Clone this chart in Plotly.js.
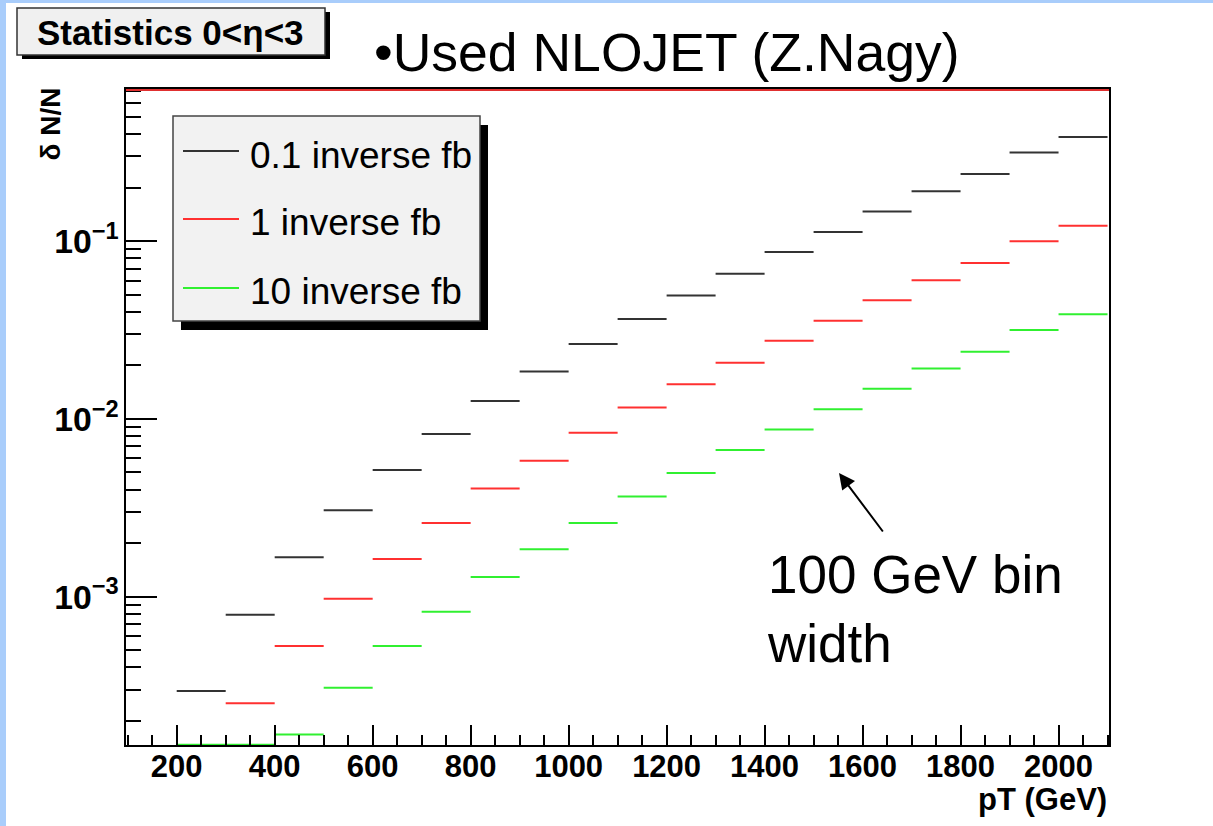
<!DOCTYPE html>
<html>
<head>
<meta charset="utf-8">
<script src="https://cdn.plot.ly/plotly-3.0.1.min.js"></script>
<style>
  html, body { margin: 0; padding: 0; background: #ffffff; }
  #chart { width: 1213px; height: 826px; position: absolute; left: 0; top: 0; }
  .stripeTop { position: absolute; left: 0; top: 0; width: 1213px; height: 3px; background: #a9cdfb; z-index: 5; }
  .stripeLeft { position: absolute; left: 0; top: 0; width: 6px; height: 826px; background: #a9cdfb; z-index: 5; }
</style>
</head>
<body>
<div id="chart"></div>
<div class="stripeTop"></div>
<div class="stripeLeft"></div>
<script>
// ---- data ----
const binLow = [200, 300, 400, 500, 600, 700, 800, 900, 1000, 1100, 1200, 1300, 1400, 1500, 1600, 1700, 1800, 1900, 2000];
const binWidth = 100;
const seriesNames = ["0.1 inverse fb", "1 inverse fb", "10 inverse fb"];
const lumi01 = [2.95e-4, 7.91e-4, 1.67e-3, 3.07e-3, 5.16e-3, 8.24e-3, 1.26e-2, 1.85e-2, 2.64e-2, 3.65e-2, 4.95e-2, 6.55e-2, 8.68e-2, 0.1126, 0.147, 0.191, 0.239, 0.315, 0.386];
const lumi1  = [null, 2.52e-4, 5.28e-4, 9.73e-4, 1.63e-3, 2.60e-3, 4.06e-3, 5.82e-3, 8.37e-3, 1.16e-2, 1.57e-2, 2.07e-2, 2.75e-2, 3.57e-2, 4.65e-2, 6.03e-2, 7.54e-2, 0.0999, 0.122];
const lumi10 = [1.47e-4, 1.47e-4, 1.68e-4, 3.08e-4, 5.28e-4, 8.24e-4, 1.29e-3, 1.85e-3, 2.60e-3, 3.66e-3, 4.97e-3, 6.70e-3, 8.71e-3, 1.135e-2, 1.48e-2, 1.92e-2, 2.39e-2, 3.17e-2, 3.88e-2];
const seriesValues = [lumi01, lumi1, lumi10];
const seriesColors = ["#333333", "#ff3030", "#30f030"];

// ---- layout geometry ----
const W = 1213, H = 826;
const L = 126, T = 89, PW = 983, PH = 656;
const px = x => (x - L) / PW;
const py = y => (T + PH - y) / PH;
const FAM = 'Liberation Sans, Arial, sans-serif';

function stepTrace(vals, color, name) {
  const xs = [], ys = [];
  for (let i = 0; i < binLow.length; i++) {
    if (vals[i] === null) continue;
    xs.push(binLow[i], binLow[i] + binWidth, null);
    ys.push(vals[i], vals[i], null);
  }
  return {
    type: 'scatter', mode: 'lines', x: xs, y: ys, name: name,
    line: { color: color, width: 2 }, showlegend: false, hoverinfo: 'skip'
  };
}

const traces = seriesValues.map((v, i) => stepTrace(v, seriesColors[i], seriesNames[i]));

const shapes = [
  // top red line along the frame
  { type: 'line', xref: 'paper', yref: 'paper', x0: 0, x1: 1, y0: py(90), y1: py(90), line: { color: '#e03030', width: 2 }, layer: 'above' },
  // statistics box shadow + box
  { type: 'rect', xref: 'paper', yref: 'paper', x0: px(22), x1: px(330), y0: py(12), y1: py(59), fillcolor: '#000', line: { width: 0 }, layer: 'above' },
  { type: 'rect', xref: 'paper', yref: 'paper', x0: px(17), x1: px(325), y0: py(8), y1: py(55), fillcolor: '#f0f0f0', line: { color: '#333', width: 1.5 }, layer: 'above' },
  // legend shadow + box
  { type: 'rect', xref: 'paper', yref: 'paper', x0: px(181), x1: px(488), y0: py(125), y1: py(330), fillcolor: '#000', line: { width: 0 }, layer: 'above' },
  { type: 'rect', xref: 'paper', yref: 'paper', x0: px(173), x1: px(480), y0: py(116), y1: py(321), fillcolor: '#f2f2f2', line: { color: '#444', width: 1.5 }, layer: 'above' }
];
const legendY = [151, 219, 288];
const legendTextY = [155, 223, 291];
seriesNames.forEach((n, i) => {
  shapes.push({ type: 'line', xref: 'paper', yref: 'paper', x0: px(183), x1: px(239), y0: py(legendY[i]), y1: py(legendY[i]), line: { color: seriesColors[i], width: 2 }, layer: 'above' });
});

const annotations = [
  { xref: 'paper', yref: 'paper', x: px(170), y: py(33), xanchor: 'center', yanchor: 'middle', showarrow: false,
    text: 'Statistics 0&lt;η&lt;3', font: { family: FAM, size: 35, color: '#000', weight: 'bold' } },
  { xref: 'paper', yref: 'paper', x: px(372), y: py(52), xanchor: 'left', yanchor: 'middle', showarrow: false,
    text: '•Used NLOJET (Z.Nagy)', font: { family: FAM, size: 53.5, color: '#000' } },
  { xref: 'paper', yref: 'paper', x: px(765), y: py(609), xanchor: 'left', yanchor: 'middle', align: 'left', showarrow: false,
    text: '100 GeV bin<br>width', font: { family: FAM, size: 53, color: '#000' } },
  { xref: 'paper', yref: 'paper', x: px(839), y: py(473), ax: 45, ay: 60, axref: 'pixel', ayref: 'pixel', text: '', showarrow: true,
    arrowhead: 2, arrowsize: 1.6, arrowwidth: 2, arrowcolor: '#000' },
  { xref: 'paper', yref: 'paper', x: px(50), y: py(86), xanchor: 'center', yanchor: 'top', textangle: -90, showarrow: false,
    text: 'δ N/N', font: { family: FAM, size: 28, color: '#000', weight: 'bold' } },
  { xref: 'paper', yref: 'paper', x: px(1109), y: py(799), xanchor: 'right', yanchor: 'middle', showarrow: false,
    text: 'pT (GeV)', font: { family: FAM, size: 31, color: '#000', weight: 'bold' } }
];
seriesNames.forEach((n, i) => {
  annotations.push({ xref: 'paper', yref: 'paper', x: px(248), y: py(legendTextY[i]), xanchor: 'left', yanchor: 'middle', showarrow: false,
    text: n, font: { family: FAM, size: 37, color: '#000' } });
});

const layout = {
  width: W, height: H, autosize: false,
  margin: { l: L, r: W - L - PW, t: T, b: H - T - PH, pad: 0 },
  paper_bgcolor: '#ffffff', plot_bgcolor: '#ffffff',
  showlegend: false,
  xaxis: {
    range: [96.5, 2103], tick0: 0, dtick: 200,
    ticks: 'inside', ticklen: 20, tickwidth: 2, tickcolor: '#000',
    minor: { dtick: 50, ticks: 'inside', ticklen: 10, tickwidth: 2, tickcolor: '#000', showgrid: false },
    showgrid: false, zeroline: false, showline: true, linecolor: '#000', linewidth: 2, mirror: true,
    ticklabelstandoff: -7,
    tickfont: { family: FAM, size: 31, color: '#000', weight: 'bold' }
  },
  yaxis: {
    type: 'log', range: [-3.834, -0.144], dtick: 1, exponentformat: 'power', showexponent: 'all',
    ticks: 'inside', ticklen: 31, tickwidth: 2, tickcolor: '#000',
    minor: { dtick: 'D1', ticks: 'inside', ticklen: 15, tickwidth: 2, tickcolor: '#000', showgrid: false },
    showgrid: false, zeroline: false, showline: true, linecolor: '#000', linewidth: 2, mirror: true,
    tickfont: { family: FAM, size: 27, color: '#000', weight: 'bold' }
  },
  shapes: shapes,
  annotations: annotations
};

Plotly.newPlot('chart', traces, layout, { displayModeBar: false, staticPlot: true });
</script>
</body>
</html>
